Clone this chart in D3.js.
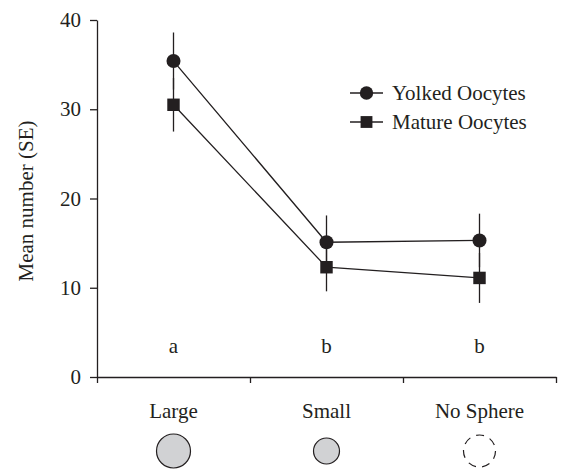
<!DOCTYPE html>
<html>
<head>
<meta charset="utf-8">
<script src="https://cdn.jsdelivr.net/npm/d3@7"></script>
<style>
  body { margin: 0; background: #fff; }
  .axis path, .axis line { stroke: #231f20; stroke-width: 1.3; }
</style>
</head>
<body>
<div id="chart"></div>
<script>
// data
const categories = ['Large', 'Small', 'No Sphere']
const letters = ['a', 'b', 'b']
const yolked = [35.4, 15.1, 15.3]
const yolkedSE = [3.2, 3.0, 3.0]
const mature = [30.5, 12.3, 11.1]
const matureSE = [3.0, 2.7, 2.8]
const sphereSize = [17, 13, 16]   // relative icon radius
const sphereDashed = [false, false, true]
const yTicks = [0, 10, 20, 30, 40]

const W = 562, H = 472
const ink = '#231f20'
const serif = '"Liberation Serif", "Times New Roman", Times, "DejaVu Serif", serif'
const fs = '21px'

const svg = d3.select('#chart').append('svg')
  .attr('width', W).attr('height', H)
  .style('font-family', serif)

const x = d3.scaleBand().domain(categories).range([97, 556]).padding(0)
const y = d3.scaleLinear().domain([0, 40]).range([377, 20])
const cx = d => x(d) + x.bandwidth() / 2

function txt(sel) {
  return sel.style('font-family', serif).style('font-size', fs).attr('fill', ink)
}

// y axis
svg.append('g')
  .attr('class', 'axis')
  .attr('transform', 'translate(97,0)')
  .call(d3.axisLeft(y).tickValues(yTicks).tickSize(7).tickSizeOuter(0).tickPadding(9))
  .call(g => txt(g.selectAll('text')))

// x axis, ticks on band boundaries
let xb = d3.scaleLinear().domain([0, categories.length]).range(x.range())
svg.append('g')
  .attr('class', 'axis')
  .attr('transform', 'translate(0,377)')
  .call(d3.axisBottom(xb).tickValues(d3.range(categories.length + 1)).tickFormat('').tickSize(6).tickSizeOuter(0))

txt(svg.append('text')
  .attr('transform', 'translate(33,201) rotate(-90)')
  .attr('text-anchor', 'middle')
  .text('Mean number (SE)'))

// category labels + sphere icons
txt(svg.selectAll('.cat').data(categories).enter().append('text')
  .attr('x', d => cx(d)).attr('y', 418)
  .attr('text-anchor', 'middle')
  .text(d => d))

svg.selectAll('.sphere').data(categories).enter().append('circle')
  .attr('cx', d => cx(d)).attr('cy', 451)
  .attr('r', (d, i) => sphereSize[i])
  .attr('fill', (d, i) => sphereDashed[i] ? 'none' : '#d1d2d4')
  .attr('stroke', ink).attr('stroke-width', 1.2)
  .attr('stroke-dasharray', (d, i) => sphereDashed[i] ? '8,6.3' : null)

// significance letters
txt(svg.selectAll('.letter').data(letters).enter().append('text')
  .attr('x', (d, i) => cx(categories[i])).attr('y', 353)
  .attr('text-anchor', 'middle')
  .text(d => d))

function series(vals, se, shape) {
  let pts = vals.map((v, i) => [cx(categories[i]), v, se[i]])
  let g = svg.append('g')
  g.selectAll('line.err').data(pts).enter().append('line')
    .attr('x1', d => d[0]).attr('x2', d => d[0])
    .attr('y1', d => y(d[1] + d[2])).attr('y2', d => y(d[1] - d[2]))
    .attr('stroke', ink).attr('stroke-width', 1.3)
  g.append('path')
    .attr('d', d3.line().x(d => d[0]).y(d => y(d[1]))(pts))
    .attr('fill', 'none').attr('stroke', ink).attr('stroke-width', 1.3)
  g.selectAll('.mk').data(pts).enter().append('path')
    .attr('transform', d => `translate(${d[0]},${y(d[1])})`)
    .attr('d', d3.symbol().type(shape).size(155)())
    .attr('fill', ink)
}

series(yolked, yolkedSE, d3.symbolCircle)
series(mature, matureSE, d3.symbolSquare)

// legend
const legend = [['Yolked Oocytes', d3.symbolCircle], ['Mature Oocytes', d3.symbolSquare]]
legend.forEach(([name, shape], i) => {
  let ly = 93 + i * 29
  svg.append('line').attr('x1', 350).attr('x2', 383).attr('y1', ly).attr('y2', ly)
    .attr('stroke', ink).attr('stroke-width', 1.3)
  svg.append('path').attr('transform', `translate(366.5,${ly})`)
    .attr('d', d3.symbol().type(shape).size(140)()).attr('fill', ink)
  txt(svg.append('text').attr('x', 392).attr('y', ly + 7).text(name))
})
</script>
</body>
</html>
